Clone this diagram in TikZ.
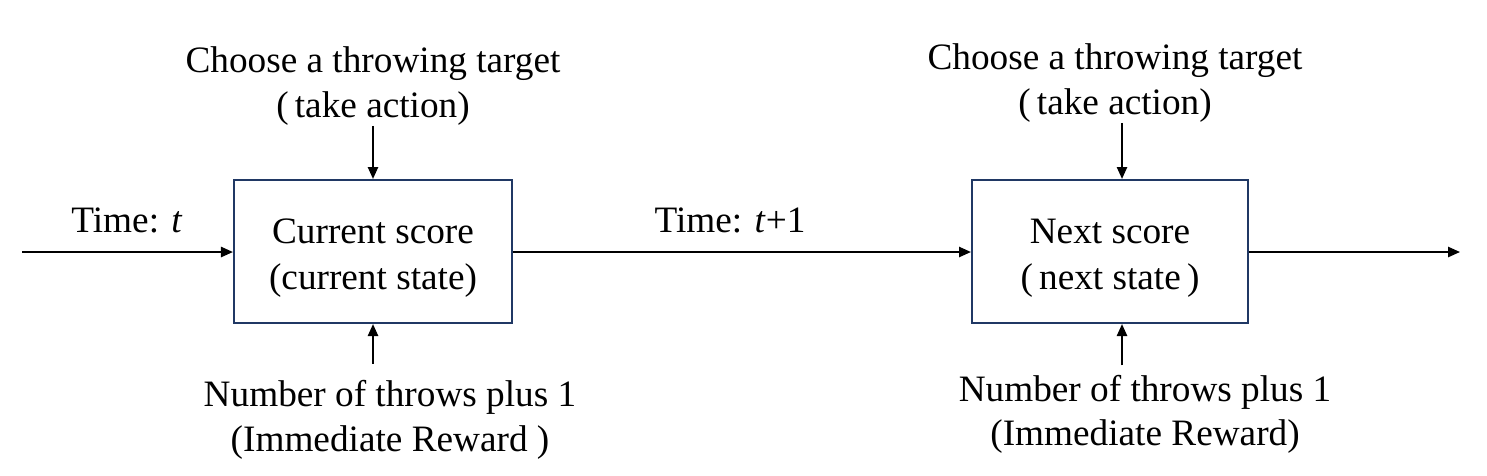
\documentclass[tikz,border=0pt]{standalone}
\usepackage{fontspec}
\setmainfont{Liberation Serif}
\usetikzlibrary{positioning,arrows.meta}
\definecolor{boxline}{RGB}{32,56,100}
\begin{document}
\begin{tikzpicture}[ note/.style={font={\fontsize{10.6}{12.7}\selectfont},align=center,inner sep=0pt},
    statebox/.style={draw=boxline,line width=0.6pt,minimum width=2.78cm,minimum height=1.43cm},
    boxtext/.style={note,font={\fontsize{10.6}{13}\selectfont},yshift=-0.065cm},
    flow/.style={line width=0.55pt,->,>={Triangle[length=3.4pt,width=2.9pt]}}]
\useasboundingbox (0,0) rectangle (14.87,4.75);
\node[statebox] (cur) at (3.73,2.235) {};
\node[statebox,minimum width=2.76cm] (nxt) at (11.10,2.235) {};
\node[boxtext] (curtxt) at (cur) {Current score\\(current state)};
\node[boxtext] (nxttxt) at (nxt) {Next score\\(\,next state\,)};
\node[note] (act1) at (3.73,3.89) {Choose a throwing target\\(\,take action)};
\node[note] (act2) at (11.15,3.92) {Choose a throwing target\\(\,take action)};
\node[note,inner ysep=4.6pt] (rew1) at (3.90,0.55) {Number of throws plus 1\\(Immediate Reward )};
\node[note,inner ysep=2.6pt] (rew2) at (11.45,0.605) {Number of throws plus 1\\(Immediate Reward)};
\node[note] (t1) at (1.27,2.55) {Time: \textit{t}};
\node[note] (t2) at (7.30,2.55) {Time: \textit{t}+1};
\coordinate (in0) at (0.22,2.23);
\coordinate (out0) at (14.60,2.23);
\draw[flow] (in0) -- (cur.west |- in0);
\draw[flow] (cur.east |- in0) -- (nxt.west |- in0);
\draw[flow] (nxt.east |- in0) -- (out0);
\draw[flow] (act1.south) -- (cur.north);
\draw[flow] ([xshift=1.2mm]act2.south -| nxt.north) -- ([xshift=1.2mm]nxt.north);
\draw[flow] (rew1.north -| cur.south) -- (cur.south);
\draw[flow] ([xshift=1.2mm]rew2.north -| nxt.south) -- ([xshift=1.2mm]nxt.south);
\end{tikzpicture}
\end{document}
